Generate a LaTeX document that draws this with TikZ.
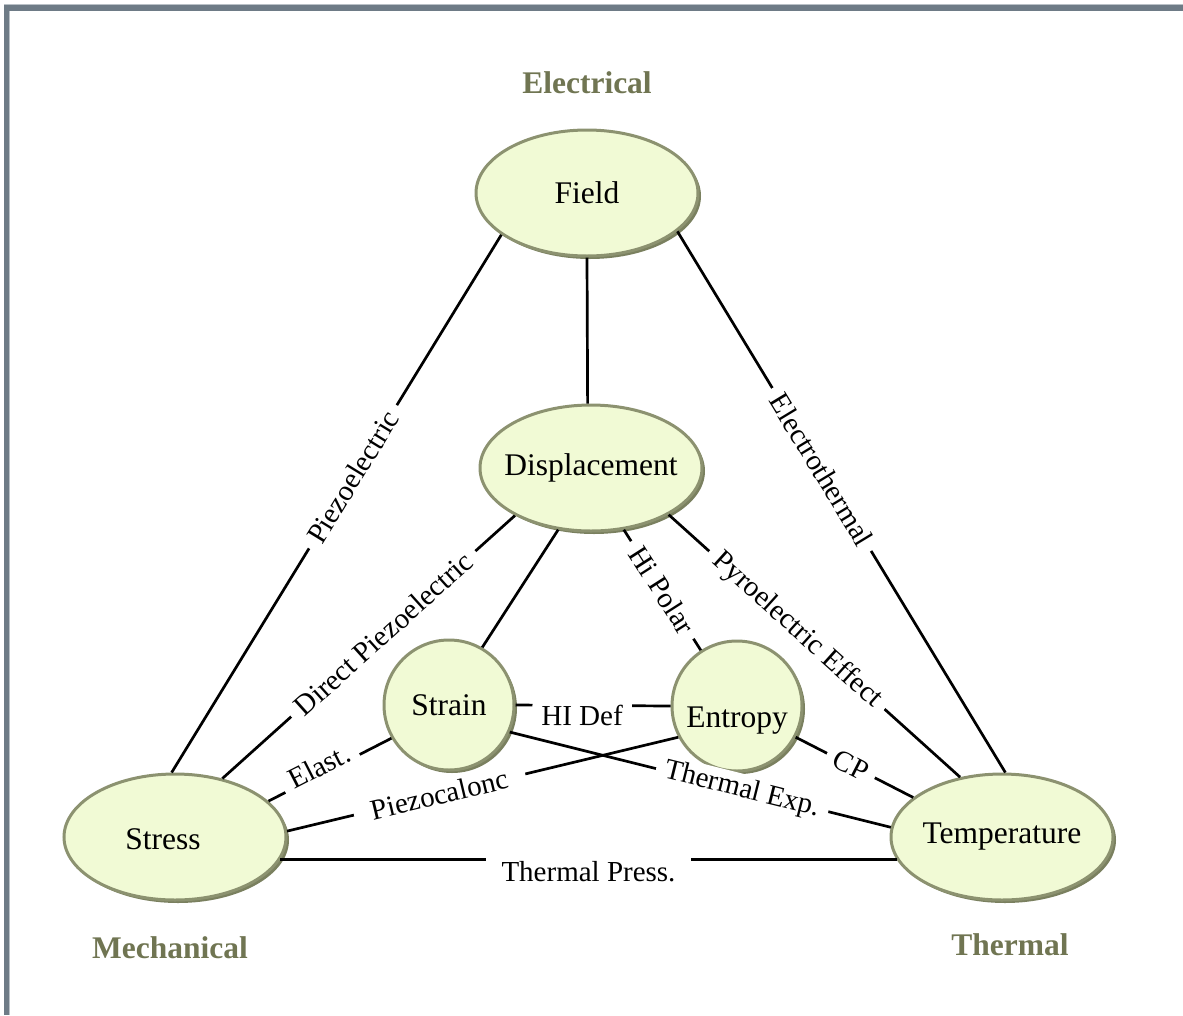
\documentclass[tikz,border=0pt]{standalone}
\usepackage{fontspec}
\setmainfont{Liberation Serif}
\usetikzlibrary{shapes.geometric,shadows}
\definecolor{nodefill}{RGB}{241,250,213}
\definecolor{nodeline}{RGB}{140,146,112}
\definecolor{shadowc}{RGB}{122,128,95}
\definecolor{grouptext}{RGB}{112,117,82}
\definecolor{framec}{RGB}{110,123,134}
\definecolor{framelight}{RGB}{185,192,198}
\newcommand{\ztext}[1]{\makebox[0pt]{#1}}
\begin{document}
\begin{tikzpicture}[x=1pt,y=-1pt,
  nodebase/.style={draw=nodeline, line width=3pt, fill=nodefill, inner sep=0pt,
    font=\fontsize{31.5}{36}\selectfont,
    drop shadow={shadow xshift=3pt, shadow yshift=-3pt, fill=shadowc, opacity=1}},
  ell/.style={nodebase, ellipse, minimum width=222pt, minimum height=126pt},
  circ/.style={nodebase, circle, minimum size=130pt},
  conn/.style={line width=2.7pt, black},
  lab/.style={fill=white, inner xsep=9pt, inner ysep=3pt, sloped,
    font=\fontsize{29}{33}\selectfont},
  grp/.style={font=\bfseries\fontsize{31.5}{36}\selectfont, text=grouptext}
]
\useasboundingbox (0,0) rectangle (1183,1015);
% frame
\fill[framelight] (4,4) rectangle (1183,5);
\fill[framec] (4,5) rectangle (1183,11);
\fill[framec] (4,5) rectangle (9,1015);
\fill[framelight] (9,11) rectangle (10,1015);

% group labels
\node[grp] (gelec) at (587,83) {Electrical};
\node[grp] (gmech) at (170,948) {Mechanical};
\node[grp] (gtherm) at (1010,945) {Thermal};

% nodes
\node[ell] (field) at (587,193) {\ztext{Field}};
\node[ell] (displacement) at (591,468) {\ztext{Displacement}};
\node[circ] (strain) at (449,705) {\ztext{Strain}};
\node[circ, label={[font=\fontsize{31.5}{36}\selectfont, yshift=-15pt]center:Entropy}] (entropy) at (737,706) {};
\node[ell, label={[font=\fontsize{31.5}{36}\selectfont, xshift=-12pt, yshift=-2pt]center:Stress}] (stress) at (175,837) {};
\node[ell] (temperature) at (1002,837) {\ztext{Temperature}};

% connectors
\draw[conn] (field.206) -- node[lab, pos=0.45] {Piezoelectric} (stress.93);
\draw[conn] (field.270) -- (displacement.93);
\draw[conn] (field.337) -- node[lab, pos=0.44] {Electrothermal} (temperature.87);
\draw[conn] (displacement.212) -- node[lab, pos=0.45] {Direct Piezoelectric} (stress.51);
\draw[conn] (displacement.242) -- (strain.60);
\draw[conn] (displacement.298) -- node[lab, pos=0.5] {Hi Polar} (entropy.123);
\draw[conn] (displacement.329) -- node[lab, pos=0.44] {Pyroelectric Effect} (temperature.125);
\draw[conn] (strain.0) -- node[lab, pos=0.43, yshift=-10pt, inner ysep=6pt] {HI Def} (entropy.180);
\draw[conn] (strain.210) -- node[lab, pos=0.56, yshift=8pt, inner ysep=5pt] {Elast.} (stress.21);
\draw[conn] (entropy.208) -- node[lab, pos=0.61, inner xsep=18pt] {Piezocalonc} (stress.3);
\draw[conn] (strain.336) -- node[lab, pos=0.61] {Thermal Exp.} (temperature.175);
\draw[conn] (entropy.332) -- node[lab, pos=0.47] {CP} (temperature.156);
\draw[conn] (stress.348) -- node[lab, pos=0.5, yshift=-12pt, inner ysep=7pt, inner xsep=16pt] {Thermal Press.} (temperature.192);
\end{tikzpicture}
\end{document}
